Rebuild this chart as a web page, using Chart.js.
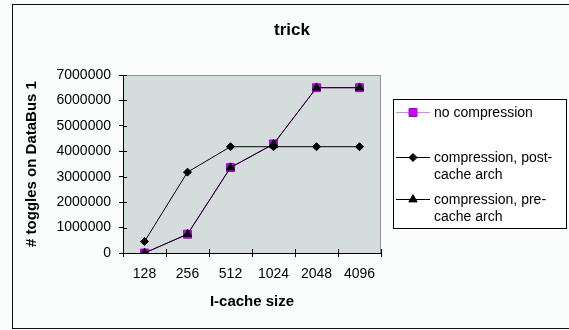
<!DOCTYPE html>
<html>
<head>
<meta charset="utf-8">
<script src="https://cdn.jsdelivr.net/npm/chart.js@4"></script>
<style>
  body { margin: 0; background: #fbfdfd; }
  #wrap { width: 569px; height: 330px; }
</style>
</head>
<body>
<div id="wrap"><canvas id="trickChart" width="569" height="330"></canvas></div>
<script>
// data
const cacheSizes = ["128", "256", "512", "1024", "2048", "4096"];
const noCompression = [0, 740000, 3360000, 4290000, 6500000, 6500000];
const postCache = [450000, 3180000, 4180000, 4180000, 4180000, 4180000];
const preCache = [0, 740000, 3360000, 4280000, 6500000, 6500000];
const yTicks = [0, 1000000, 2000000, 3000000, 4000000, 5000000, 6000000, 7000000];
const seriesNames = [["no compression"], ["compression, post-", "cache arch"], ["compression, pre-", "cache arch"]];

const FONT = "Liberation Sans, Arial, sans-serif";

// background, outer frame, plot area fill and title
const framePlugin = {
  id: "frame",
  beforeDraw(chart) {
    const { ctx, chartArea: a } = chart;
    ctx.save();
    ctx.fillStyle = "#fbfdfd";
    ctx.fillRect(0, 0, chart.width, chart.height);
    ctx.strokeStyle = "#111";
    ctx.lineWidth = 1;
    ctx.strokeRect(12.5, 4.5, 600, 324);
    ctx.fillStyle = "#d5dcdc";
    ctx.fillRect(a.left, a.top, a.right - a.left, a.bottom - a.top);
    ctx.strokeStyle = "#8c9494";
    ctx.strokeRect(a.left + 0.5, a.top + 0.5, a.right - a.left - 1, a.bottom - a.top);
    ctx.fillStyle = "#000";
    ctx.font = "bold 17px " + FONT;
    ctx.textAlign = "center";
    ctx.textBaseline = "alphabetic";
    ctx.fillText("trick", 292, 35);
    ctx.restore();
  },
  afterDraw(chart) {
    // inner half of the crossing tick marks
    const { ctx, chartArea: a } = chart;
    const xs = chart.scales.x, ys = chart.scales.y;
    ctx.save();
    ctx.strokeStyle = "#000";
    ctx.lineWidth = 1;
    ctx.beginPath();
    ys.ticks.forEach((t) => {
      const y = Math.round(ys.getPixelForValue(t.value)) + 0.5;
      ctx.moveTo(a.left, y);
      ctx.lineTo(a.left + 4, y);
    });
    const half = (xs.getPixelForValue(1) - xs.getPixelForValue(0)) / 2;
    for (let i = 0; i <= cacheSizes.length; i++) {
      const x = Math.round(xs.getPixelForValue(i) - half) + 0.5;
      ctx.moveTo(x, a.bottom);
      ctx.lineTo(x, a.bottom - 4);
    }
    ctx.stroke();
    ctx.restore();
  },
};

// boxed legend on the right, with line samples through markers
const legendPlugin = {
  id: "boxLegend",
  afterDraw(chart) {
    const { ctx } = chart;
    ctx.save();
    ctx.fillStyle = "#fff";
    ctx.fillRect(393, 99, 173, 129);
    ctx.strokeStyle = "#000";
    ctx.lineWidth = 1;
    ctx.strokeRect(393.5, 99.5, 173, 129);
    const rows = [112, 157, 199];
    chart.data.datasets.forEach((ds, i) => {
      const y = rows[i];
      ctx.strokeStyle = ds.legendLine || ds.borderColor;
      ctx.beginPath();
      ctx.moveTo(396, y + 0.5);
      ctx.lineTo(430, y + 0.5);
      ctx.stroke();
      ctx.fillStyle = ds.pointBackgroundColor;
      ctx.strokeStyle = ds.pointBorderColor;
      Chart.helpers.drawPoint(ctx, { pointStyle: ds.pointStyle, radius: ds.pointRadius, borderWidth: 1 }, 413, y + 0.5);
      ctx.fillStyle = "#000";
      ctx.font = "14px " + FONT;
      ctx.textAlign = "left";
      ctx.textBaseline = "middle";
      seriesNames[i].forEach((line, k) => ctx.fillText(line, 434, y + 1 + k * 17));
    });
    ctx.restore();
  },
};

new Chart(document.getElementById("trickChart"), {
  type: "line",
  data: {
    labels: cacheSizes,
    datasets: [
      {
        label: seriesNames[0].join(" "),
        data: noCompression,
        borderColor: "#cc00ff",
        legendLine: "#d97fff",
        borderWidth: 1,
        pointStyle: "rect",
        pointRadius: 5.6,
        pointBackgroundColor: "#cc00ff",
        pointBorderColor: "#a000cc",
        order: 3,
      },
      {
        label: seriesNames[1].join(" "),
        data: postCache,
        borderColor: "#000",
        borderWidth: 1,
        pointStyle: "rectRot",
        pointRadius: 4,
        pointBackgroundColor: "#000",
        pointBorderColor: "#000",
        order: 2,
      },
      {
        label: seriesNames[2].join(" "),
        data: preCache,
        borderColor: "#000",
        borderWidth: 1,
        pointStyle: "triangle",
        pointRadius: 4.8,
        pointBackgroundColor: "#000",
        pointBorderColor: "#000",
        order: 1,
      },
    ],
  },
  options: {
    responsive: false,
    animation: false,
    events: [],
    layout: { padding: { left: 12, right: 188, top: 75, bottom: 0 } },
    plugins: { legend: { display: false }, title: { display: false }, tooltip: { enabled: false } },
    scales: {
      x: {
        offset: true,
        grid: { offset: true, drawOnChartArea: false, color: "#000", tickLength: 4, tickColor: "#000" },
        border: { color: "#000" },
        ticks: { color: "#000", padding: 9, font: { family: FONT, size: 14 }, maxRotation: 0 },
        title: { display: true, text: "I-cache size", color: "#000", font: { family: FONT, size: 15, weight: "bold" }, padding: { top: 0, bottom: 19 } },
        afterFit: (s) => { s.height = 77; },
      },
      y: {
        min: yTicks[0],
        max: yTicks[yTicks.length - 1],
        afterBuildTicks: (s) => { s.ticks = yTicks.map((v) => ({ value: v })); },
        grid: { drawOnChartArea: false, color: "#000", tickLength: 4, tickColor: "#000" },
        border: { color: "#000" },
        ticks: { color: "#000", padding: 8, font: { family: FONT, size: 14 }, callback: (v) => String(v) },
        title: { display: true, text: "# toggles on DataBus 1", color: "#000", font: { family: FONT, size: 15, weight: "bold" }, padding: { top: 11, bottom: 0 } },
        afterFit: (s) => { s.width = 111; },
      },
    },
  },
  plugins: [framePlugin, legendPlugin],
});
</script>
</body>
</html>
